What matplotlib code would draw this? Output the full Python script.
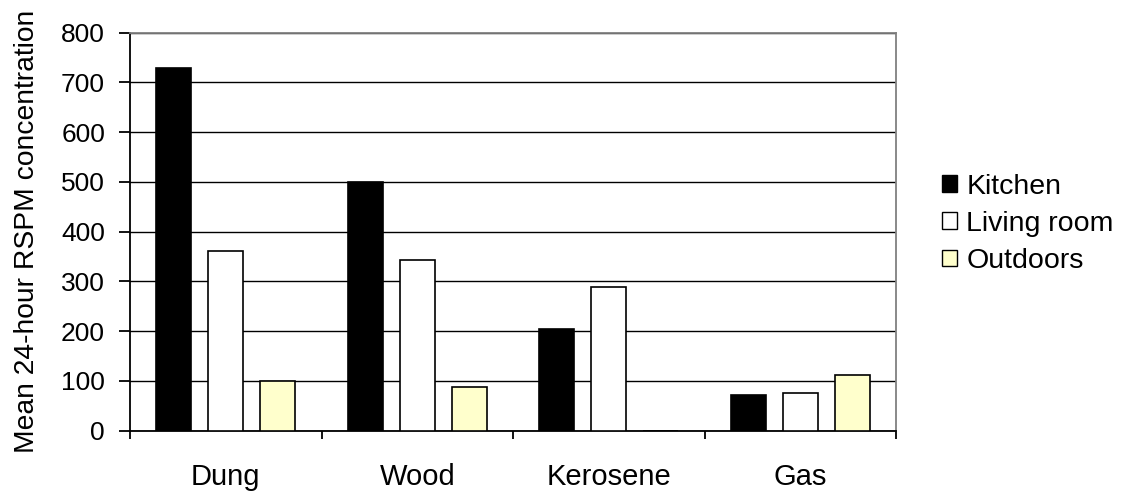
import matplotlib
matplotlib.use("Agg")
import matplotlib.pyplot as plt
import numpy as np
from matplotlib.patches import Patch

plt.rcParams['font.family'] = ['Liberation Sans', 'DejaVu Sans']

fuels = ["Dung", "Wood", "Kerosene", "Gas"]
kitchen = [730, 500, 204, 72]
living_room = [361, 344, 289, 75]
outdoors = [100, 87, 0, 111]
series_names = ["Kitchen", "Living room", "Outdoors"]
y_ticks = [0, 100, 200, 300, 400, 500, 600, 700, 800]

fig = plt.figure(figsize=(11.22, 4.91), dpi=100)
ax = fig.add_axes([0.1159, 0.1228, 0.6827, 0.8106])

x = np.arange(len(fuels))
w = 0.183
step = 0.272
styles = [
    dict(facecolor="black", edgecolor="black"),
    dict(facecolor="white", edgecolor="black"),
    dict(facecolor="#FFFFCC", edgecolor="black"),
]
for i, vals in enumerate([kitchen, living_room, outdoors]):
    ax.bar(x + (i - 1) * step, vals, width=w, linewidth=1.2, zorder=3, **styles[i])

ax.set_xlim(-0.5, len(fuels) - 0.5)
ax.set_ylim(0, 800)
ax.set_yticks(y_ticks)
ax.yaxis.grid(True, color="black", linewidth=1.0, zorder=0)
ax.set_axisbelow(True)

# category boundaries carry the tick marks, category centres carry the names
ax.set_xticks(np.arange(len(fuels) + 1) - 0.5)
ax.set_xticklabels([])
ax.set_xticks(x, minor=True)
ax.set_xticklabels(fuels, minor=True)
ax.tick_params(axis="x", which="major", direction="out", length=6, width=1.3, color="black")
ax.tick_params(axis="x", which="minor", length=0, pad=23, labelsize=21)
ax.tick_params(axis="y", direction="out", length=8, width=1.3, labelsize=19, pad=10)

for s in ["left", "bottom"]:
    ax.spines[s].set_color("black")
    ax.spines[s].set_linewidth(1.3)
for s in ["top", "right"]:
    ax.spines[s].set_color("#808080")
    ax.spines[s].set_linewidth(1.3)

ax.set_ylabel("Mean 24-hour RSPM concentration", fontsize=20.3, labelpad=15.5)

handles = [Patch(facecolor=st["facecolor"], edgecolor="black", linewidth=1.0) for st in styles]
fig.legend(handles, series_names, loc="center left", bbox_to_anchor=(0.8396, 0.544),
           frameon=False, fontsize=20.5, handlelength=0.53, handleheight=0.53,
           handletextpad=0.32, labelspacing=0.39, borderpad=0, borderaxespad=0)

fig.savefig("out.png", dpi=100)
